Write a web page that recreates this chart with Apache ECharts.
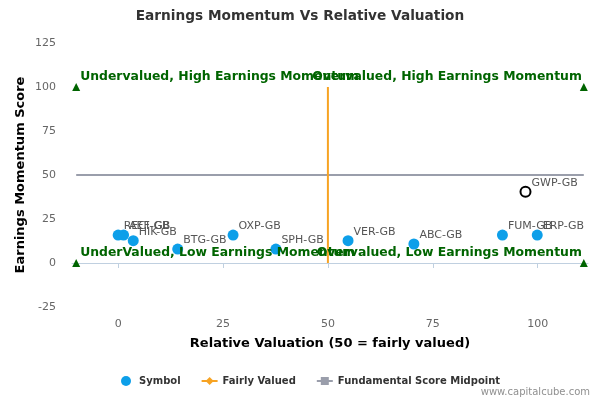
<!DOCTYPE html>
<html>
<head>
<meta charset="utf-8">
<script src="https://cdn.jsdelivr.net/npm/echarts@6/dist/echarts.min.js"></script>
<style>
    html, body { margin: 0; padding: 0; background: #fff; }
    #chart { width: 600px; height: 400px; }
</style>
</head>
<body>
<div id="chart"></div>
<script>
// symbols (blue points)
var symbolNames = ['RECI-GB', 'AEF-GB', 'HIK-GB', 'BTG-GB', 'OXP-GB', 'SPH-GB', 'VER-GB', 'ABC-GB', 'FUM-GB', 'ERP-GB'];
var symbolX = [0, 1.3, 3.6, 14.2, 27.4, 37.6, 54.8, 70.5, 91.6, 99.9];
var symbolY = [15.9, 15.9, 12.7, 7.9, 15.9, 7.9, 12.7, 10.8, 15.9, 15.9];

// highlighted company
var focusName = 'GWP-GB';
var focusX = 97.1;
var focusY = 40.5;

// reference lines
var fairX = [50, 50];
var fairY = [0, 100];
var midX = [-10, 111];
var midY = [50, 50];

// quadrant markers
var quadNames = ['Undervalued, High Earnings Momentum', 'Overvalued, High Earnings Momentum',
    'UnderValued, Low Earnings Momentum', 'Overvalued, Low Earnings Momentum'];
var quadX = [-10, 111, -10, 111];
var quadY = [100, 100, 0, 0];

var xTicks = [0, 25, 50, 75, 100];

var font = 'DejaVu Sans';
var green = '#006400';

var symbolData = [];
for (var n = 0; n < symbolNames.length; n++) {
    symbolData.push({name: symbolNames[n], value: [symbolX[n], symbolY[n]]});
}
var quadData = [];
for (var n = 0; n < quadNames.length; n++) {
    var onLeft = quadX[n] < 50;
    quadData.push({
        name: quadNames[n],
        value: [quadX[n], quadY[n]],
        label: {
            position: onLeft ? 'right' : 'left',
            offset: onLeft ? [0, -10] : [2, -10]
        }
    });
}
var line = function (xs, ys) {
    var out = [];
    for (var i = 0; i < xs.length; i++) out.push([xs[i], ys[i]]);
    return out;
};

var myChart = echarts.init(document.getElementById('chart'));
var option = {
    animation: false,
    textStyle: {fontFamily: font},
    title: {
        text: 'Earnings Momentum Vs Relative Valuation',
        left: 'center',
        top: 4,
        textStyle: {fontSize: 13.7, fontWeight: 'bold', color: '#333', fontFamily: font}
    },
    legend: {
        data: ['Symbol', 'Fairly Valued', 'Fundamental Score Midpoint'],
        bottom: 9,
        left: 116,
        itemWidth: 16,
        itemHeight: 10,
        itemGap: 20,
        textStyle: {fontSize: 10, fontWeight: 'bold', color: '#333', fontFamily: font}
    },
    graphic: [{
        type: 'text',
        right: 10,
        bottom: 3,
        style: {text: 'www.capitalcube.com', fontSize: 10, fill: '#909090', fontFamily: font}
    }],
    grid: {left: 72, right: 12, top: 43, bottom: 93},
    xAxis: {
        type: 'value',
        min: -11,
        max: 112,
        name: 'Relative Valuation (50 = fairly valued)',
        nameLocation: 'middle',
        nameGap: 30,
        nameTextStyle: {fontSize: 13, fontWeight: 'bold', color: '#000'},
        splitLine: {show: false},
        axisLine: {show: true, lineStyle: {color: '#C0D0E0'}},
        axisTick: {show: true, customValues: xTicks, length: 5, lineStyle: {color: '#C0D0E0'}},
        axisLabel: {customValues: xTicks, color: '#666', fontSize: 11, margin: 12}
    },
    yAxis: {
        type: 'value',
        min: -25,
        max: 125,
        interval: 25,
        name: 'Earnings Momentum Score',
        nameLocation: 'middle',
        nameGap: 45,
        nameMoveOverlap: false,
        nameTextStyle: {fontSize: 13, fontWeight: 'bold', color: '#000'},
        splitLine: {show: false},
        axisLine: {show: false},
        axisTick: {show: false},
        axisLabel: {color: '#666', fontSize: 11, margin: 16}
    },
    series: [
        {
            name: 'Fundamental Score Midpoint',
            type: 'line',
            data: line(midX, midY),
            symbol: 'rect',
            symbolSize: 9,
            showSymbol: false,
            itemStyle: {color: '#9A9EAB'},
            lineStyle: {color: '#9A9EAB', width: 2},
            silent: true
        },
        {
            name: 'Fairly Valued',
            type: 'line',
            data: line(fairX, fairY),
            symbol: 'diamond',
            symbolSize: 10,
            showSymbol: false,
            itemStyle: {color: '#F7A323'},
            lineStyle: {color: '#F7A323', width: 2},
            silent: true
        },
        {
            name: 'Quadrants',
            type: 'scatter',
            data: quadData,
            symbol: 'triangle',
            symbolSize: 8,
            itemStyle: {color: green, opacity: 1},
            label: {
                show: true,
                formatter: '{b}',
                distance: 0,
                color: green,
                fontSize: 12.4,
                fontWeight: 'bold',
                fontFamily: font
            },
            z: 5
        },
        {
            name: 'Symbol',
            type: 'scatter',
            data: symbolData,
            symbol: 'circle',
            symbolSize: 11,
            itemStyle: {color: '#0D9FE9', opacity: 1},
            label: {
                show: true,
                formatter: '{b}',
                position: 'right',
                distance: 0,
                offset: [0, -9],
                color: '#555',
                fontSize: 11
            },
            z: 3
        },
        {
            name: 'Focus',
            type: 'scatter',
            data: [{name: focusName, value: [focusX, focusY]}],
            symbol: 'circle',
            symbolSize: 10,
            itemStyle: {color: '#fff', borderColor: '#000', borderWidth: 2, opacity: 1},
            label: {
                show: true,
                formatter: '{b}',
                position: 'right',
                distance: 0,
                offset: [0, -9],
                color: '#555',
                fontSize: 11
            },
            z: 3
        }
    ]
};
myChart.setOption(option);
</script>
</body>
</html>
